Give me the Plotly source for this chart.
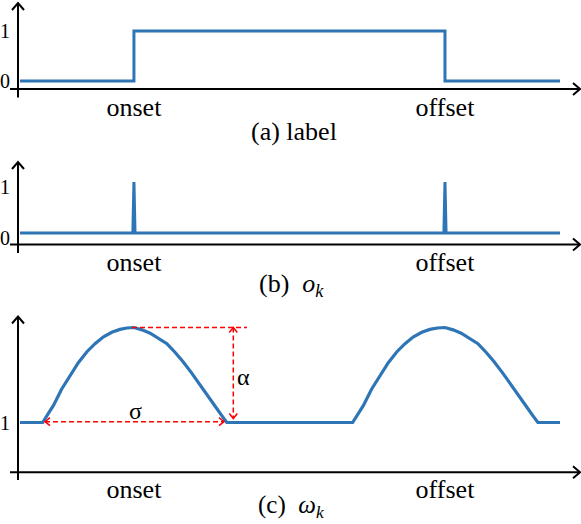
import plotly.graph_objects as go

W, H = 581, 524

# ---------------- data ----------------
event_labels = ["onset", "offset"]
event_times = [21.1, 78.7]

# (a) label
label_t = [0, 21.1, 21.1, 78.7, 78.7, 100]
label_v = [0, 0, 1, 1, 0, 0]
label_ticks = [0, 1]
label_ticktext = ["0", "1"]

# (b) o_k
ok_t = [0, 20.9, 21.1, 21.3, 78.5, 78.7, 78.9, 100]
ok_v = [0, 0, 1, 0, 0, 1, 0, 0]
ok_ticks = [0, 1]
ok_ticktext = ["0", "1"]

# (c) omega_k
w_t = [0,
       4.2, 5.2, 6.2, 7.7, 9.3, 10.8, 12.4, 13.9, 15.4, 17.0, 18.5, 19.8, 21.1,
       22.6, 24.1, 25.6, 27.2, 28.7, 30.2, 31.8, 33.3, 34.8, 36.4, 37.4, 38.3,
       61.6, 62.6, 63.6, 65.1, 66.7, 68.2, 69.8, 71.3, 72.8, 74.4, 75.9, 77.3, 78.7,
       80.2, 81.7, 83.2, 84.8, 86.3, 87.8, 89.4, 90.9, 92.4, 94.0, 95.0, 95.9,
       100]
w_v = [1,
       1.0, 1.09, 1.18, 1.35, 1.50, 1.63, 1.745, 1.83, 1.90, 1.95, 1.98, 1.995, 2.0,
       1.975, 1.94, 1.89, 1.83, 1.74, 1.64, 1.52, 1.395, 1.27, 1.15, 1.07, 1.0,
       1.0, 1.09, 1.18, 1.35, 1.50, 1.63, 1.745, 1.83, 1.90, 1.95, 1.98, 1.995, 2.0,
       1.975, 1.94, 1.89, 1.83, 1.74, 1.64, 1.52, 1.395, 1.27, 1.15, 1.07, 1.0,
       1]
w_ticks = [1]
w_ticktext = ["1"]
alpha_top = 2.0

# ---------------- layout helpers ----------------
FONT = "Liberation Serif, Times New Roman, serif"
BLUE = "#2E75B6"
RED = "#FF0000"


def tx(px):
    return (px - 20) / 5.4


XR = [tx(0), tx(W)]

panels = {
    # base pixel, base value, px per unit, domain top px, domain bottom px
    "a": dict(bpx=81, bval=0, unit=50, top=0, bot=100),
    "b": dict(bpx=233, bval=0, unit=51, top=158, bot=256),
    "c": dict(bpx=422.5, bval=1, unit=95, top=308, bot=486),
}


def vy(p, py):
    s = panels[p]
    return s["bval"] + (s["bpx"] - py) / s["unit"]


def pp(py):
    return 1 - py / H


fig = go.Figure()
axis_ids = {"a": ("x", "y"), "b": ("x2", "y2"), "c": ("x3", "y3")}

fig.add_trace(go.Scatter(x=label_t, y=label_v, mode="lines", line=dict(color=BLUE, width=3),
                         xaxis="x", yaxis="y", showlegend=False, hoverinfo="skip"))
fig.add_trace(go.Scatter(x=ok_t, y=ok_v, mode="lines", line=dict(color=BLUE, width=3),
                         xaxis="x2", yaxis="y2", showlegend=False, hoverinfo="skip"))
fig.add_trace(go.Scatter(x=w_t, y=w_v, mode="lines", line=dict(color=BLUE, width=3.2),
                         xaxis="x3", yaxis="y3", showlegend=False, hoverinfo="skip"))

ticks = {"a": (label_ticks, label_ticktext, 0), "b": (ok_ticks, ok_ticktext, 5),
         "c": (w_ticks, w_ticktext, 0)}
xstand = {"a": -11, "b": -12, "c": -15}

layout = dict(template="none", width=W, height=H, margin=dict(l=0, r=0, t=0, b=0, pad=0),
              paper_bgcolor="white", plot_bgcolor="rgba(0,0,0,0)", showlegend=False)
for p, (xa, ya) in axis_ids.items():
    s = panels[p]
    xk = "xaxis" if xa == "x" else "xaxis" + xa[1:]
    yk = "yaxis" if ya == "y" else "yaxis" + ya[1:]
    tv, tt, shift = ticks[p]
    layout[xk] = dict(domain=[0, 1], range=XR, anchor=ya, showgrid=False, zeroline=False,
                      showline=False, ticks="", tickvals=event_times, ticktext=event_labels,
                      tickfont=dict(family=FONT, size=26, color="black"), automargin=False,
                      ticklabelstandoff=xstand[p], fixedrange=True)
    layout[yk] = dict(domain=[pp(s["bot"]), pp(s["top"])],
                      range=[vy(p, s["bot"]), vy(p, s["top"])], anchor=xa,
                      showgrid=False, zeroline=False, showline=False, ticks="",
                      tickvals=tv, ticktext=tt, ticklabelposition="inside", automargin=False,
                      ticklabelstandoff=-3, ticklabelshift=shift,
                      tickfont=dict(family=FONT, size=20, color="black"), fixedrange=True)
fig.update_layout(**layout)

shapes = []


def chevron(xref, yref, x, y, path, color, width):
    shapes.append(dict(type="path", xref=xref, yref=yref, xsizemode="pixel", ysizemode="pixel",
                       xanchor=x, yanchor=y, path=path, line=dict(color=color, width=width)))


axis_px = {"a": dict(ybot=97.5, ytip=3, xaxis=89),
           "b": dict(ybot=253, ytip=162, xaxis=244.5),
           "c": dict(ybot=480, ytip=316.5, xaxis=472.3)}
UP = "M -6,-7 L 0,0 L 6,-7"
RIGHT = "M -7,6 L 0,0 L -7,-6"
for p, (xa, ya) in axis_ids.items():
    a = axis_px[p]
    x0 = tx(18)
    shapes.append(dict(type="line", xref=xa, yref=ya, x0=x0, x1=x0,
                       y0=vy(p, a["ybot"]), y1=vy(p, a["ytip"]), line=dict(color="black", width=2)))
    chevron(xa, ya, x0, vy(p, a["ytip"]), UP, "black", 2)
    yy = vy(p, a["xaxis"])
    shapes.append(dict(type="line", xref=xa, yref=ya, x0=tx(10), x1=tx(580),
                       y0=yy, y1=yy, line=dict(color="black", width=2)))
    chevron(xa, ya, tx(580), yy, RIGHT, "black", 2)

# red dimension marks on panel (c)
dash = "5px,3px"
shapes.append(dict(type="line", xref="x3", yref="y3", x0=tx(132), x1=tx(247),
                   y0=alpha_top, y1=alpha_top, line=dict(color=RED, width=1.5, dash=dash)))
ax_x = tx(233.3)
ybot = vy("c", 418.5)
shapes.append(dict(type="line", xref="x3", yref="y3", x0=ax_x, x1=ax_x,
                   y0=alpha_top, y1=ybot, line=dict(color=RED, width=1.5, dash=dash)))
chevron("x3", "y3", ax_x, alpha_top, "M -4,-5 L 0,0 L 4,-5", RED, 1.5)
chevron("x3", "y3", ax_x, ybot, "M -4,5 L 0,0 L 4,5", RED, 1.5)
sy = vy("c", 421.7)
shapes.append(dict(type="line", xref="x3", yref="y3", x0=tx(45), x1=tx(224),
                   y0=sy, y1=sy, line=dict(color=RED, width=1.5, dash=dash)))
chevron("x3", "y3", tx(45), sy, "M 5,4 L 0,0 L 5,-4", RED, 1.5)
chevron("x3", "y3", tx(224), sy, "M -5,4 L 0,0 L -5,-4", RED, 1.5)

fig.update_layout(shapes=shapes)

annotations = [
    dict(text="(a) label", x=294 / W, y=pp(131), xref="paper", yref="paper",
         xanchor="center", yanchor="middle",
         showarrow=False, font=dict(family=FONT, size=26, color="black")),
    dict(text="(b)\u00a0\u00a0<i>o</i><sub><i>k</i></sub>", x=291 / W, y=pp(285), xref="paper",
         yref="paper", xanchor="center", yanchor="middle",
         showarrow=False, font=dict(family=FONT, size=26, color="black")),
    dict(text="(c)\u00a0\u00a0<i>ω</i><sub><i>k</i></sub>", x=291 / W, y=pp(506), xref="paper",
         yref="paper", xanchor="center", yanchor="middle",
         showarrow=False, font=dict(family=FONT, size=25, color="black")),
    dict(text="α", x=tx(243.5), y=vy("c", 377), xref="x3", yref="y3", showarrow=False,
         font=dict(family=FONT, size=24, color="black")),
    dict(text="σ", x=tx(135.5), y=vy("c", 411), xref="x3", yref="y3", showarrow=False,
         font=dict(family=FONT, size=24, color="black")),
]
fig.update_layout(annotations=annotations)

fig.write_html("out.html", config={"displayModeBar": False},
               post_script="document.body.style.margin='0';")
